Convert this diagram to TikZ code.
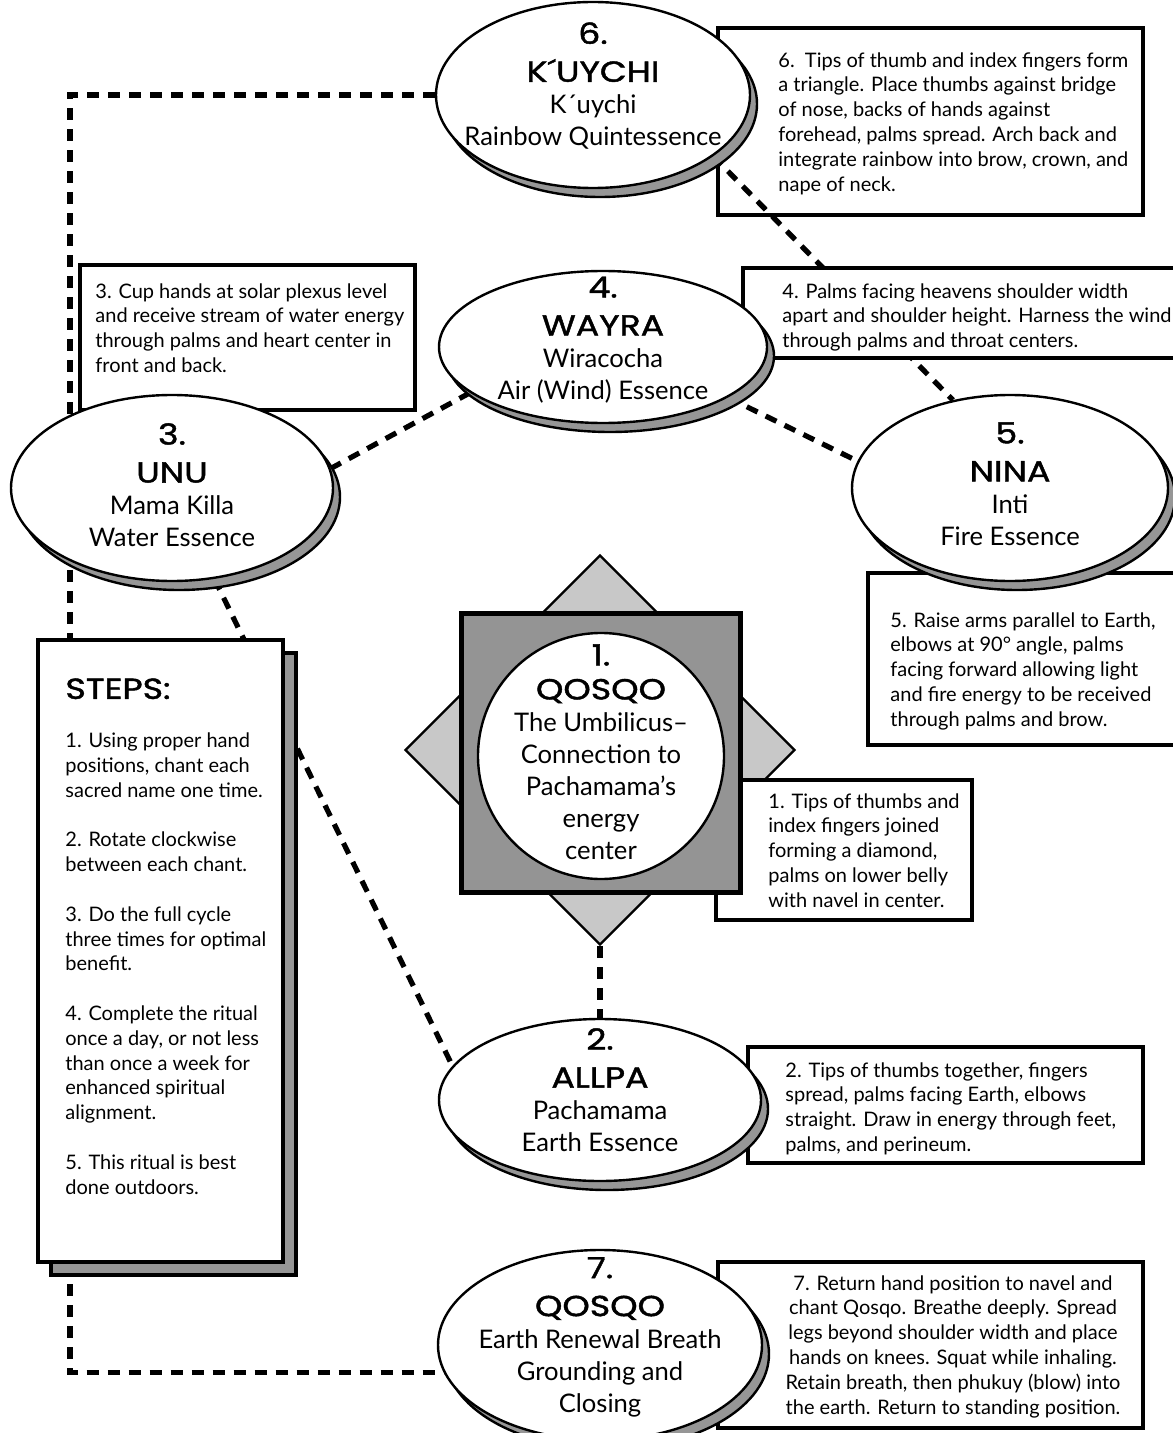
\documentclass[tikz,border=0pt]{standalone}
\usepackage{fontspec}
\setmainfont{Lato}
\newfontfamily\headfont{Poppins}[FakeBold=1.5,FakeStretch=1.2]
\usetikzlibrary{shapes.geometric,shadows,backgrounds}
\definecolor{shadegray}{RGB}{150,150,150}
\definecolor{squaregray}{RGB}{148,148,148}
\definecolor{diamondgray}{RGB}{200,200,200}
\newcommand{\hd}[1]{{\headfont\fontsize{14.5}{16}\selectfont #1}}

\begin{document}
\begin{tikzpicture}[x=0.5pt, y=-0.5pt,
  link/.style={line width=2.6pt, dash pattern=on 6pt off 4.5pt},
  oval/.style={ellipse, draw, line width=1.2pt, fill=white, inner sep=0pt,
    drop shadow={shadow xshift=3.5pt, shadow yshift=-4.5pt, fill=shadegray, draw=black, line width=1.2pt, opacity=1}},
  ovaltext/.style={align=center, font=\fontsize{12.8}{16}\selectfont, inner sep=0pt},
  note/.style={draw, line width=2pt, fill=white, inner sep=0pt},
  notetext/.style={align=left, font=\fontsize{10}{12.4}\selectfont, inner sep=0pt, anchor=north west},
  steps/.style={note, drop shadow={shadow xshift=6.5pt, shadow yshift=-6.5pt, fill=shadegray, draw=black, line width=2pt, opacity=1}}]
  \useasboundingbox (0,0) rectangle (1172,1433);
  \coordinate (loopx) at (70,700);

  \node[note, minimum width=221pt, minimum height=45pt] (tip4) at (964,313) {};
  \node[notetext] (tip4text) at (782,283) {4. Palms facing heavens shoulder width\\apart and shoulder height. Harness the wind\\through palms and throat centers.};
  \node[note, minimum width=167.5pt, minimum height=72.5pt] (tip3) at (247.5,337.5) {};
  \node[notetext] (tip3text) at (95,283) {3. Cup hands at solar plexus level\\and receive stream of water energy\\through palms and heart center in\\front and back.};
  \node[note, minimum width=158.5pt, minimum height=86pt] (tip5) at (1026.5,659) {};
  \node[notetext] (tip5text) at (890,612) {5. Raise arms parallel to Earth,\\elbows at 90° angle, palms\\facing forward allowing light\\and fire energy to be received\\through palms and brow.};
  \node[note, minimum width=197.5pt, minimum height=58pt] (tip2) at (945.5,1105) {};
  \node[notetext] (tip2text) at (785,1062) {2. Tips of thumbs together, fingers\\spread, palms facing Earth, elbows\\straight. Draw in energy through feet,\\palms, and perineum.};
  \node[note, minimum width=212.5pt, minimum height=83pt] (tip7) at (930.5,1345) {};
  \node[notetext, anchor=north, align=center] (tip7text) at (953,1275) {7. Return hand position to navel and\\chant Qosqo. Breathe deeply. Spread\\legs beyond shoulder width and place\\hands on knees. Squat while inhaling.\\Retain breath, then phukuy (blow) into\\the earth. Return to standing position.};

  \node[diamond, draw, fill=diamondgray, line width=1.2pt, minimum width=195pt, minimum height=195pt, inner sep=0pt] (star) at (600,750) {};
  \node[note, minimum width=128pt, minimum height=70pt] (tip1) at (844,850) {};
  \node[notetext] (tip1text) at (768,793) {1. Tips of thumbs and\\index fingers joined\\forming a diamond,\\palms on lower belly\\with navel in center.};
  \node[draw, fill=squaregray, line width=2.4pt, minimum size=139.5pt, inner sep=0pt] (plaza) at (601,753) {};
  \node[circle, draw, fill=white, line width=1.2pt, minimum size=123pt, inner sep=0pt] (qosqo) at (601,756) {};
  \node[ovaltext] (qosqotext) at (601,752) {\hd{1.}\\[1pt]\hd{QOSQO}\\The Umbilicus–\\Connection to\\Pachamama’s\\energy\\center};

  \node[oval, minimum width=157pt, minimum height=93pt] (kuychi) at (593,95) {};
  \node[ovaltext] (kuychitext) at (593,86) {\hd{6.}\\[3pt]\hd{K´UYCHI}\\K´uychi\\Rainbow Quintessence};
  \node[oval, minimum width=164pt, minimum height=76pt] (wayra) at (603,347) {};
  \node[ovaltext] (wayratext) at (603,340) {\hd{4.}\\[3pt]\hd{WAYRA}\\Wiracocha\\Air (Wind) Essence};
  \node[oval, minimum width=161pt, minimum height=93pt] (unu) at (172,488) {};
  \node[ovaltext] (unutext) at (172,485) {\hd{3.}\\[3pt]\hd{UNU}\\Mama Killa\\Water Essence};
  \node[oval, minimum width=158pt, minimum height=93pt] (nina) at (1010,488) {};
  \node[ovaltext] (ninatext) at (1010,484) {\hd{5.}\\[3pt]\hd{NINA}\\Inti\\Fire Essence};
  \node[oval, minimum width=161pt, minimum height=81pt] (allpa) at (600,1100) {};
  \node[ovaltext] (allpatext) at (600,1090) {\hd{2.}\\[3pt]\hd{ALLPA}\\Pachamama\\Earth Essence};
  \node[oval, minimum width=162pt, minimum height=95pt] (closing) at (600,1345) {};
  \node[ovaltext] (closingtext) at (600,1337) {\hd{7.}\\[3pt]\hd{QOSQO}\\Earth Renewal Breath\\Grounding and\\Closing};

  \node[steps, minimum width=122.5pt, minimum height=311pt] (stepbox) at (160.5,951) {};
  \node[notetext] (steptext) at (65,678) {\hd{STEPS:}\\[12pt]1. Using proper hand\\positions, chant each\\sacred name one time.\\[12.4pt]2. Rotate clockwise\\between each chant.\\[12.4pt]3. Do the full cycle\\three times for optimal\\benefit.\\[12.4pt]4. Complete the ritual\\once a day, or not less\\than once a week for\\enhanced spiritual\\alignment.\\[12.4pt]5. This ritual is best\\done outdoors.};

  \begin{scope}[on background layer]
    \node[note, minimum width=212.5pt, minimum height=93.5pt] (tip6) at (930.5,121.5) {};
    \node[notetext] (tip6text) at (778,52) {6.\ \ Tips of thumb and index fingers form\\a triangle. Place thumbs against bridge\\of nose, backs of hands against\\forehead, palms spread. Arch back and\\integrate rainbow into brow, crown, and\\nape of neck.};
    \draw[link] (kuychi.west) -| (loopx) |- (closing.190);
    \draw[link] (kuychi.-27) -- (nina.123);
    \draw[link] (wayra.199) -- (unu.7);
    \draw[link] (wayra.-22) -- (nina.170);
    \draw[link] (unu.-65) -- (allpa.167);
    \draw[link] (star.south) -- (allpa.north);
  \end{scope}
\end{tikzpicture}
\end{document}
